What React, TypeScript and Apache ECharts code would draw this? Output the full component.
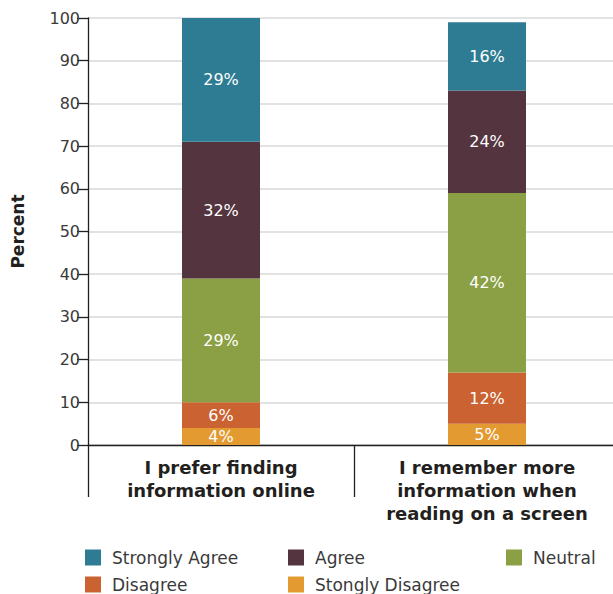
import React, { useEffect, useRef } from "react";
import * as echarts from "echarts";

// Survey statements (x categories)
const categories = [
  "I prefer finding\ninformation online",
  "I remember more\ninformation when\nreading on a screen",
];

// Response shares (%) per statement, stacked bottom to top
const stronglyDisagree = [4, 5];
const disagree = [6, 12];
const neutral = [29, 42];
const agree = [32, 24];
const stronglyAgree = [29, 16];

const colors: Record<string, string> = {
  "Strongly Agree": "#2e7c94",
  Agree: "#54343f",
  Neutral: "#8b9f44",
  Disagree: "#cb6231",
  "Stongly Disagree": "#e39a31",
};

const FONT = "'DejaVu Sans', 'Open Sans', sans-serif";

export default function App() {
  const ref = useRef<HTMLDivElement>(null);

  useEffect(() => {
    if (!ref.current) return;
    const chart = echarts.init(ref.current, undefined, { renderer: "svg" });

    const stack = [
      { name: "Stongly Disagree", data: stronglyDisagree },
      { name: "Disagree", data: disagree },
      { name: "Neutral", data: neutral },
      { name: "Agree", data: agree },
      { name: "Strongly Agree", data: stronglyAgree },
    ];

    // Legend laid out as a fixed 3-column grid
    const legendSpots: [string, number, number][] = [
      ["Strongly Agree", 85, 549],
      ["Agree", 288, 549],
      ["Neutral", 506, 549],
      ["Disagree", 85, 576],
      ["Stongly Disagree", 288, 576],
    ];

    chart.setOption({
      animation: false,
      // the plot runs a little past the right edge of the visible frame
      grid: { left: 88, top: 18, right: 0, bottom: 149 },
      legend: legendSpots.map(([name, x, y]) => ({
        data: [name],
        left: x,
        top: y,
        itemWidth: 16,
        itemHeight: 16,
        icon: "rect",
        padding: 0,
        selectedMode: false,
        textStyle: {
          fontFamily: FONT,
          fontSize: 17,
          color: "#3a3a3a",
          padding: [0, 0, 0, 6],
        },
      })),
      xAxis: {
        type: "category",
        data: categories,
        axisLine: { show: true, lineStyle: { color: "#231f20", width: 1.3 } },
        axisTick: {
          show: true,
          length: 52,
          alignWithLabel: false,
          interval: 0,
          lineStyle: { color: "#231f20", width: 1.3 },
        },
        axisLabel: {
          interval: 0,
          margin: 11,
          fontFamily: FONT,
          fontSize: 18,
          fontWeight: "bold",
          color: "#231f20",
          lineHeight: 23,
        },
      },
      yAxis: {
        type: "value",
        min: 0,
        max: 100,
        interval: 10,
        name: "Percent",
        nameLocation: "middle",
        nameRotate: 90,
        nameGap: 62,
        nameTextStyle: {
          fontFamily: FONT,
          fontSize: 17,
          fontWeight: "bold",
          color: "#231f20",
        },
        axisLine: { show: true, lineStyle: { color: "#231f20", width: 1.3 } },
        axisTick: { show: true, length: 11, lineStyle: { color: "#231f20", width: 1.3 } },
        axisLabel: {
          margin: 8,
          fontFamily: FONT,
          fontSize: 16,
          color: "#3a3a3a",
        },
        splitLine: { show: true, lineStyle: { color: "#d9d9d9", width: 1.5 } },
      },
      series: stack.map((s) => ({
        name: s.name,
        type: "bar",
        stack: "total",
        barWidth: 78,
        data: s.data,
        itemStyle: { color: colors[s.name] },
        label: {
          show: true,
          position: "inside",
          formatter: "{c}%",
          color: "#ffffff",
          fontFamily: FONT,
          fontSize: 16,
        },
      })),
    });

    return () => chart.dispose();
  }, []);

  return (
    <div
      style={{ position: "absolute", left: 0, top: 0, width: 613, height: 594, overflow: "hidden", background: "#ffffff" }}
    >
      <div ref={ref} style={{ width: 620, height: 594 }} />
    </div>
  );
}
